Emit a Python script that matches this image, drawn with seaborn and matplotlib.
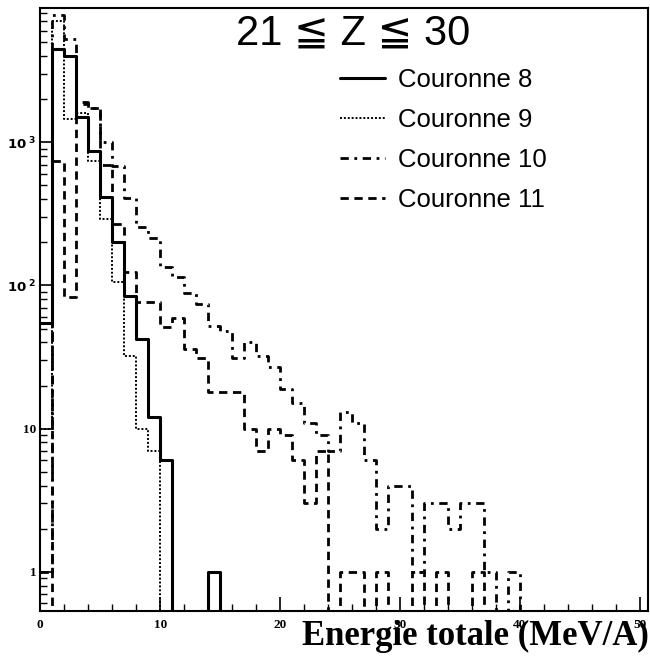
import numpy as np
import pandas as pd
import matplotlib
matplotlib.use("Agg")
import matplotlib.pyplot as plt
from matplotlib.ticker import FixedLocator, NullFormatter, MultipleLocator
import seaborn as sns

# energy bins (MeV/A), width 1
bin_edges = list(range(0, 42))
bin_lo = list(range(0, 41))

# counts per bin (bins 0..40)
couronne8 = [55, 4470, 4040, 1500, 870, 412, 200, 85, 42, 12, 6, 0, 0, 0, 1, 0,
             0, 0, 0, 0, 0, 0, 0, 0, 0, 0, 0, 0, 0, 0, 0, 0, 0, 0, 0, 0, 0, 0, 0, 0, 0]
couronne9 = [10, 7000, 1450, 1600, 740, 290, 105, 32, 10, 7, 0, 0, 0, 0, 0, 0,
             0, 0, 0, 0, 0, 0, 0, 0, 0, 0, 0, 0, 0, 0, 0, 0, 0, 0, 0, 0, 0, 0, 0, 0, 0]
couronne10 = [1, 7800, 5300, 1850, 1750, 1000, 680, 410, 255, 215, 135, 115, 89, 74, 52, 48,
              31, 40, 32, 27, 19, 15, 11, 9, 7, 13, 11, 6, 2, 4, 4, 1, 3, 3, 2, 3, 3, 1, 0, 1, 0]
couronne11 = [0, 740, 83, 1900, 1750, 700, 267, 125, 77, 77, 51, 59, 36, 31, 18, 18,
              18, 10, 7, 10, 9, 6, 3, 7, 0, 1, 1, 0, 1, 0, 0, 1, 0, 1, 0, 0, 1, 0, 0, 0, 0]

labels = ["Couronne 8", "Couronne 9", "Couronne 10", "Couronne 11"]
series = [couronne8, couronne9, couronne10, couronne11]

rows = []
for lab, vals in zip(labels, series):
    for lo, v in zip(bin_lo, vals):
        rows.append({"E": lo + 0.5, "n": v, "couronne": lab})
df = pd.DataFrame(rows)

styles = {
    "Couronne 8": dict(ls="-", lw=2.2),
    "Couronne 9": dict(ls=(0, (1, 1)), lw=1.4),
    "Couronne 10": dict(ls=(0, (3, 2, 1, 2)), lw=2.0),
    "Couronne 11": dict(ls=(0, (3, 2)), lw=2.0),
}

sns.set_style("ticks")
plt.rcParams["text.color"] = "black"
plt.rcParams["xtick.color"] = "black"
plt.rcParams["ytick.color"] = "black"
plt.rcParams["axes.edgecolor"] = "black"

fig = plt.figure(figsize=(6.5, 6.6), dpi=100)
ax = fig.add_axes([0.062, 0.074, 0.935, 0.914])

for lab in labels:
    sub = df[df["couronne"] == lab]
    sns.histplot(data=sub, x="E", weights="n", bins=bin_edges, element="step",
                 fill=False, color="black", ax=ax, label=lab, **styles[lab])

ax.set_yscale("log", nonpositive="clip")
ax.set_xlim(0, 50.7)
ax.set_ylim(0.53, 8700)

for s in ax.spines.values():
    s.set_linewidth(1.5)
    s.set_color("black")

ax.set_xticks([0, 10, 20, 30, 40, 50])
ax.xaxis.set_minor_locator(MultipleLocator(2))
ax.tick_params(axis="both", which="major", direction="in", length=10, width=1.2)
ax.tick_params(axis="both", which="minor", direction="in", length=5, width=1)
ax.set_yticks([1, 10, 100, 1000])
ax.yaxis.set_minor_locator(FixedLocator([m * 10 ** k for k in range(-1, 4) for m in range(2, 10)]))
ax.yaxis.set_minor_formatter(NullFormatter())
ax.set_yticklabels(["1", "10", r"$\mathbf{10^{\ 2}}$", r"$\mathbf{10^{\ 3}}$"],
                   fontfamily="Liberation Serif", fontweight="bold", fontsize=9.5)
ax.set_xticklabels(["0", "10", "20", "30", "40", "50"],
                   fontfamily="Liberation Serif", fontweight="bold", fontsize=9.5)
ax.tick_params(axis="x", pad=6)
ax.tick_params(axis="y", pad=3)

ax.set_xlabel("")
ax.set_ylabel("")
fig.text(0.998, 0.035, "Energie totale (MeV/A)", ha="right", va="center",
         fontfamily="Liberation Serif", fontweight="bold", fontsize=25, color="black")

ax.text(0.515, 0.958, "21 \u2266 Z \u2266 30", transform=ax.transAxes, ha="center", va="center",
        family=["Liberation Sans", "DejaVu Sans"], fontsize=30, color="black")

ax.legend(loc="upper left", bbox_to_anchor=(0.455, 0.939), frameon=False,
          prop={"family": "Liberation Sans", "size": 18.5}, handlelength=1.75,
          handletextpad=0.5, labelspacing=0.62)

fig.savefig("out.png", dpi=100)
